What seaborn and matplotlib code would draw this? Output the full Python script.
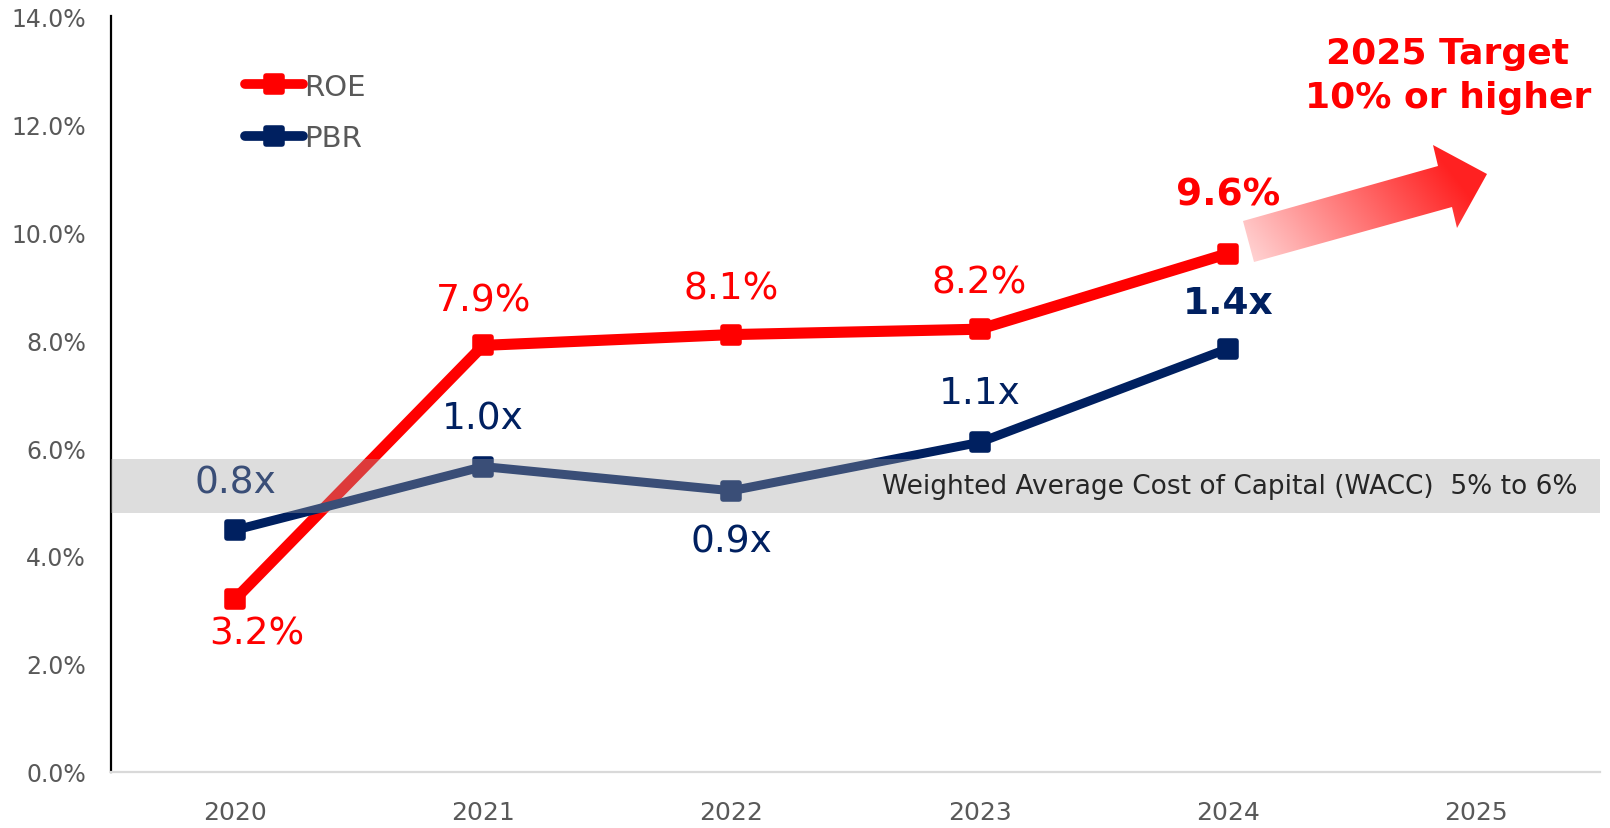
import numpy as np
import pandas as pd
import matplotlib
matplotlib.use("Agg")
import matplotlib.pyplot as plt
import seaborn as sns
from matplotlib.markers import MarkerStyle
from matplotlib.patches import Rectangle, Polygon
from matplotlib.lines import Line2D
import matplotlib.transforms as mtransforms

# ---- data ----
years = ["2020", "2021", "2022", "2023", "2024", "2025"]
roe = [3.2, 7.9, 8.1, 8.2, 9.6]
pbr = [0.80, 1.01, 0.93, 1.09, 1.40]
roe_labels = ["3.2%", "7.9%", "8.1%", "8.2%", "9.6%"]
pbr_labels = ["0.8x", "1.0x", "0.9x", "1.1x", "1.4x"]
wacc_band = [4.8, 5.8]
yticks = [0, 2, 4, 6, 8, 10, 12, 14]
wacc_text = "Weighted Average Cost of Capital (WACC)  5% to 6%"
target_text = "2025 Target\n10% or higher"

RED = "#ff0000"
NAVY = "#002060"
GRAY = "#595959"

sns.set_theme(style="white")
plt.rcParams['font.family'] = ['DejaVu Sans']

fig = plt.figure(figsize=(16.1, 8.29), dpi=100)
ax = fig.add_axes([111 / 1610, 1 - 773 / 829, (1600 - 111) / 1610, (773 - 17) / 829])
ax2 = ax.twinx()

df_roe = pd.DataFrame({"x": np.arange(len(roe)), "v": roe})
df_pbr = pd.DataFrame({"x": np.arange(len(pbr)), "v": pbr})

mk = MarkerStyle('s', joinstyle='round')
sns.lineplot(data=df_roe, x="x", y="v", ax=ax, color=RED, lw=8, marker=mk,
             markersize=12, markeredgewidth=4, markeredgecolor=RED, zorder=2)
sns.lineplot(data=df_pbr, x="x", y="v", ax=ax2, color=NAVY, lw=6.5, marker=mk,
             markersize=12, markeredgewidth=4, markeredgecolor=NAVY, zorder=2)

ax.set_xlim(-0.5, len(years) - 0.5)
ax.set_ylim(0, 14)
ax2.set_ylim(0, 2.5)
ax.set_xticks(range(len(years)))
ax.set_xticklabels(years)
ax.set_yticks(yticks)
ax.set_yticklabels([f"{t:.1f}%" for t in yticks])
ax.set_xlabel("")
ax.set_ylabel("")
ax2.set_ylabel("")
ax2.set_yticks([])
ax.tick_params(axis='y', length=0, pad=18, labelsize=17, labelcolor=GRAY)
ax.tick_params(axis='x', length=0, pad=20, labelsize=18, labelcolor=GRAY)
for s in ["top", "right"]:
    ax.spines[s].set_visible(False)
for s in ax2.spines.values():
    s.set_visible(False)
ax.spines["left"].set_color("black")
ax.spines["left"].set_linewidth(1.6)
ax.spines["bottom"].set_color("#d9d9d9")
ax.spines["bottom"].set_linewidth(1.6)
ax.grid(False)
ax2.grid(False)
if ax.get_legend():
    ax.get_legend().remove()
if ax2.get_legend():
    ax2.get_legend().remove()

# WACC band, drawn over both lines
trans = mtransforms.blended_transform_factory(ax.transAxes, ax.transData)
band = Rectangle((0, wacc_band[0]), 1, wacc_band[1] - wacc_band[0], transform=trans,
                 facecolor="#a2a2a2", alpha=0.36, edgecolor="none", zorder=5)
ax2.add_patch(band)
ax2.text(0.985, (wacc_band[0] + wacc_band[1]) / 2, wacc_text, transform=trans,
         ha="right", va="center", fontsize=19, color="#262626", zorder=6)

# labels
roe_off = [(22, -34), (0, 45), (0, 46), (0, 47), (0, 59)]
pbr_off = [(0, 48), (0, 48), (0, -51), (0, 49), (0, 46)]
for i, (v, lab) in enumerate(zip(roe, roe_labels)):
    bold = i == len(roe) - 1
    ax.annotate(lab, (i, v), xytext=roe_off[i], textcoords="offset pixels",
                ha="center", va="center", fontsize=27, color=RED,
                fontweight="bold" if bold else "normal", zorder=3)
for i, (v, lab) in enumerate(zip(pbr, pbr_labels)):
    bold = i == len(pbr) - 1
    ax2.annotate(lab, (i, v), xytext=pbr_off[i], textcoords="offset pixels",
                 ha="center", va="center", fontsize=27, color=NAVY,
                 fontweight="bold" if bold else "normal", zorder=3)

# legend
handles = [Line2D([0], [0], color=RED, lw=7, marker=mk, markersize=12,
                  markeredgewidth=4, markeredgecolor=RED, solid_capstyle="round"),
           Line2D([0], [0], color=NAVY, lw=7, marker=mk, markersize=12,
                  markeredgewidth=4, markeredgecolor=NAVY, solid_capstyle="round")]
leg = fig.legend(handles, ["ROE", "PBR"], loc="upper left",
                 bbox_to_anchor=(230 / 1610, 1 - 59 / 829), frameon=False,
                 fontsize=21, handlelength=2.0, handletextpad=0.05,
                 labelspacing=0.8, borderpad=0)
for t in leg.get_texts():
    t.set_color(GRAY)

# target text
fig.text(1448 / 1610, 1 - 76 / 829, target_text, ha="center", va="center",
         fontsize=26, fontweight="bold", color=RED, linespacing=1.35)

# gradient arrow (decoration)
oa = fig.add_axes([0, 0, 1, 1], zorder=10)
oa.patch.set_alpha(0)
pts = [(1243, 222), (1438, 167), (1433, 146), (1487, 175), (1457, 229),
       (1452, 208), (1254, 263)]
poly = Polygon(pts, closed=True, facecolor="none", edgecolor="none")
oa.add_patch(poly)
x0, x1, y0, y1 = 1238, 1492, 140, 268
nx, ny = 260, 130
gx, gy = np.meshgrid(np.linspace(x0, x1, nx), np.linspace(y0, y1, ny))
proj = (gx - 1250) * 0.8 - (gy - 262) * 0.6
t = np.clip(proj / 215.0, 0, 1)
c0 = np.array([1.0, 0.83, 0.83])
c1 = np.array([1.0, 0.13, 0.13])
img = c0[None, None, :] * (1 - t[..., None]) + c1[None, None, :] * t[..., None]
im = oa.imshow(img, extent=[x0, x1, y1, y0], aspect="auto", origin="upper")
im.set_clip_path(poly)
oa.set_xlim(0, 1610)
oa.set_ylim(829, 0)
oa.axis("off")

fig.savefig("out.png", dpi=100)
